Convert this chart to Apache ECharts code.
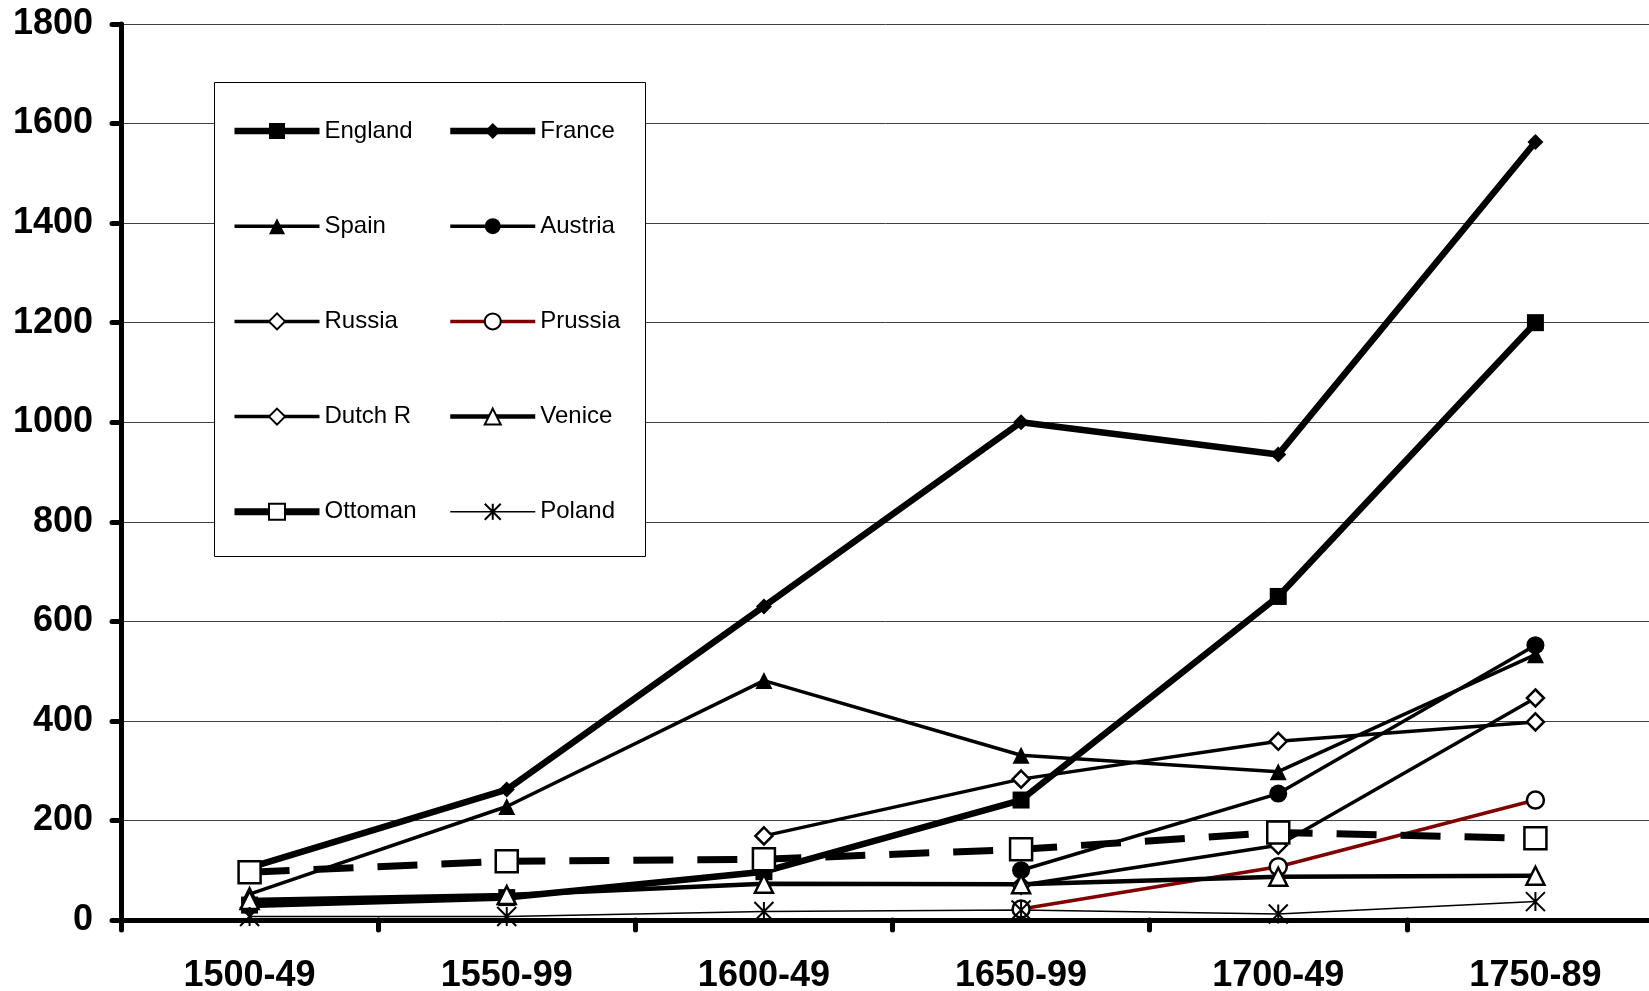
<!DOCTYPE html>
<html>
<head>
<meta charset="utf-8">
<script src="https://cdn.jsdelivr.net/npm/echarts@6/dist/echarts.min.js"></script>
<style>
html,body{margin:0;padding:0;background:#fff;overflow:hidden;}
#chart{width:1649px;height:991px;}
</style>
</head>
<body>
<div id="chart"></div>
<script>
const categories = ['1500-49','1550-99','1600-49','1650-99','1700-49','1750-89'];
const england = [30, 45, 97, 241, 650, 1200];
const france  = [105, 262, 630, 1000, 935, 1563];
const spain   = [52, 228, 481, 331, 298, 533];
const austria = [null, null, null, 100, 254, 552];
const russia  = [null, null, null, 70, 150, 446];
const prussia = [null, null, null, 22, 107, 241];
const dutchR  = [null, null, 169, 283, 359, 398];
const venice  = [40, 50, 73, 72, 87, 89];
const ottoman = [96, 118, 122, 142, 176, 164];
const poland  = [7, 7, 17, 20, 12, 37];
const yTicks = {min: 0, max: 1800, interval: 200};

const FONT = '"Liberation Sans", Arial, sans-serif';
const ASTER = 'path://M0,0L20,20M20,0L0,20M10,0L10,20';

function mk(name, data, o) {
  return {
    name: name, type: 'line', data: data, showAllSymbol: true,
    symbol: o.symbol, symbolSize: o.size,
    lineStyle: {color: o.lineColor || '#000', width: o.width, type: o.dash || 'solid'},
    itemStyle: {color: o.fill, borderColor: o.stroke || '#000', borderWidth: o.bw || 0},
    emphasis: {disabled: true},
    animation: false
  };
}

const series = [
  mk('England', england, {symbol: 'rect', size: 17, width: 6.5, fill: '#000'}),
  mk('France', france, {symbol: 'diamond', size: 16, width: 6.5, fill: '#000'}),
  mk('Spain', spain, {symbol: 'triangle', size: 17, width: 3.5, fill: '#000'}),
  mk('Austria', austria, {symbol: 'circle', size: 18, width: 3.5, fill: '#000'}),
  mk('Russia', russia, {symbol: 'diamond', size: 17, width: 3.5, fill: '#fff', bw: 2.5}),
  mk('Prussia', prussia, {symbol: 'circle', size: 17, width: 3.5, fill: '#fff', bw: 2.5, lineColor: '#800000'}),
  mk('Dutch R', dutchR, {symbol: 'diamond', size: 17, width: 3.5, fill: '#fff', bw: 2.5}),
  mk('Venice', venice, {symbol: 'triangle', size: 18, width: 4.5, fill: '#fff', bw: 2.5}),
  mk('Ottoman', ottoman, {symbol: 'rect', size: 22, width: 7, fill: '#fff', bw: 2.5, dash: [40, 24]}),
  mk('Poland', poland, {symbol: ASTER, size: 19, width: 1.5, fill: 'none', bw: 2})
];

function legItem(name) {
  const s = series.find(x => x.name === name);
  return {name: name, lineStyle: {width: s.lineStyle.width, color: s.lineStyle.color, type: 'solid'}};
}

const legendCommon = {
  orient: 'vertical', padding: 0, itemWidth: 85, itemHeight: 20, itemGap: 71.2,
  selectedMode: false, z: 6,
  textStyle: {fontFamily: FONT, fontSize: 24, color: '#000', lineHeight: 24}
};

const chart = echarts.init(document.getElementById('chart'), null, {renderer: 'canvas'});
chart.setOption({
  backgroundColor: '#fff',
  animation: false,
  grid: {left: 121, top: 24, width: 1543, height: 896, containLabel: false, outerBoundsMode: 'none'},
  xAxis: {
    type: 'category', data: categories, boundaryGap: true,
    axisLine: {lineStyle: {color: '#000', width: 5}},
    axisTick: {show: true, interval: 0, length: 10, lineStyle: {color: '#000', width: 5, cap: 'round'}},
    axisLabel: {interval: 0, margin: 38, fontFamily: FONT, fontSize: 36, fontWeight: 'bold', color: '#000'},
    splitLine: {show: false}
  },
  yAxis: {
    type: 'value', min: yTicks.min, max: yTicks.max, interval: yTicks.interval,
    axisLine: {show: true, lineStyle: {color: '#000', width: 5}},
    axisTick: {show: true, length: 9, lineStyle: {color: '#000', width: 5, cap: 'round'}},
    axisLabel: {margin: 28, fontFamily: FONT, fontSize: 36, fontWeight: 'bold', color: '#000',
                formatter: v => String(v)},
    splitLine: {show: true, lineStyle: {color: '#404040', width: 1}}
  },
  legend: [
    Object.assign({}, legendCommon, {left: 231, top: 119,
      data: ['England','Spain','Russia','Dutch R','Ottoman'].map(legItem)}),
    Object.assign({}, legendCommon, {left: 447, top: 119,
      data: ['France','Austria','Prussia','Venice','Poland'].map(legItem)})
  ],
  graphic: [{
    type: 'rect', z: 5, silent: true,
    shape: {x: 214.5, y: 82.5, width: 431, height: 474},
    style: {fill: '#fff', stroke: '#000', lineWidth: 1}
  }],
  series: series
});
</script>
</body>
</html>
